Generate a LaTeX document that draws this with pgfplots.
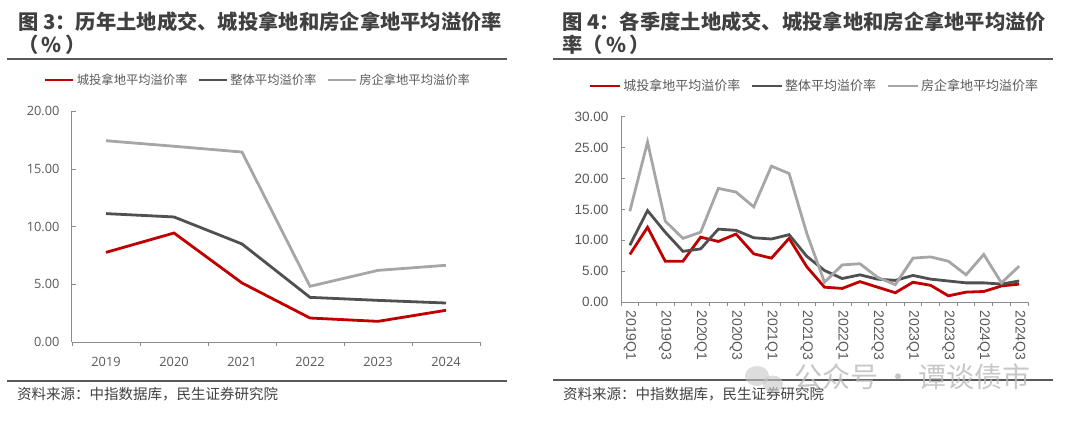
\documentclass[border=0pt]{standalone}
\usepackage{fontspec}
\usepackage{pgfplots}
\pgfplotsset{compat=1.18}
\setmainfont{Noto Sans CJK SC}
\newfontfamily\cjk{Noto Sans CJK SC}
\newfontfamily\osans{Open Sans}
\newfontfamily\lsans{Liberation Sans}
\definecolor{cred}{HTML}{C00000}
\definecolor{cdark}{HTML}{505050}
\definecolor{clight}{HTML}{A6A6A6}
\definecolor{ctitle}{HTML}{404040}
\definecolor{ctick}{HTML}{595959}
\definecolor{caxis}{HTML}{8C8C8C}

\pgfplotstableread{
x red dark grey
0 7.77 11.13 17.45
1 9.45 10.84 16.97
2 5.12 8.50 16.47
3 2.08 3.87 4.83
4 1.79 3.61 6.21
5 2.75 3.38 6.65
}\annual

\pgfplotstableread{
x red dark grey
0 7.7 9.2 14.7
1 12.1 14.8 25.9
2 6.6 11.3 13.1
3 6.6 8.2 10.3
4 10.5 8.6 11.3
5 9.8 11.8 18.4
6 11.0 11.6 17.8
7 7.8 10.4 15.4
8 7.1 10.2 22.0
9 10.3 10.9 20.8
10 5.7 7.4 11.1
11 2.4 5.1 3.2
12 2.2 3.8 6.0
13 3.3 4.4 6.2
14 2.4 3.7 4.0
15 1.5 3.5 2.8
16 3.2 4.3 7.1
17 2.7 3.7 7.3
18 1.0 3.4 6.6
19 1.6 3.1 4.4
20 1.7 3.1 7.7
21 2.6 2.9 3.1
22 2.9 3.4 5.8
}\quarterly

\pgfplotsset{
  mystyle/.style={
    scale only axis,
    axis x line*=bottom, axis y line*=left,
    axis line style={caxis, line width=1pt},
    tick style={caxis, line width=0.9pt},
    tick align=inside, major tick length=4pt,
    xtick style={yshift=-4pt},
    /pgf/number format/assume math mode=true,
    y tick label style={/pgf/number format/.cd, fixed, fixed zerofill, precision=2},
    ticklabel style={text=ctick},
    legend style={draw=none, fill=none, inner sep=0pt, text=ctick,
      /tikz/every even column/.append style={column sep=8pt}},
    legend cell align=left,
  },
  redline/.style={cred, line width=2.8pt},
  darkline/.style={cdark, line width=2.8pt},
  greyline/.style={clight, line width=2.8pt},
}

\begin{document}
\begin{tikzpicture}
\path[use as bounding box] (0pt,0pt) rectangle (1080pt,-421pt);

% ---------- Left panel ----------
\node[anchor=west, inner sep=0pt, text=ctitle, font=\cjk\bfseries\fontsize{20.3}{24}\selectfont] at (18pt,-22pt) {图 3：历年土地成交、城投拿地和房企拿地平均溢价率};
\node[anchor=west, inner sep=0pt, text=ctitle, font=\cjk\bfseries\fontsize{20.3}{24}\selectfont] at (18pt,-45pt) {（\,\%\,）};
\draw[ctick, line width=1.6pt] (7pt,-59pt) -- (507pt,-59pt);
\draw[ctick, line width=1.6pt] (7pt,-381pt) -- (507pt,-381pt);
\node[anchor=west, inner sep=0pt, text=ctitle, font=\cjk\fontsize{14.5}{17}\selectfont] at (17pt,-394pt) {资料来源：中指数据库，民生证券研究院};

\begin{axis}[mystyle,
  at={(72pt,-342pt)}, anchor=south west,
  width=408pt, height=230.7pt,
  xmin=-0.5, xmax=5.5, ymin=0, ymax=20,
  ytick={0,5,10,15,20},
  xtick={-0.5,0.5,...,5.5}, xticklabels={},
  extra x ticks={0,1,2,3,4,5},
  extra x tick labels={2019,2020,2021,2022,2023,2024},
  extra x tick style={major tick length=0pt},
  ticklabel style={font=\osans\fontsize{12.8}{14}\selectfont},
  xticklabel shift=12pt, yticklabel shift=9pt,
  legend columns=3,
  legend style={at={(0.456,1.136)}, anchor=center, font=\cjk\fontsize{12.3}{14}\selectfont},
  legend image code/.code={\draw[#1] (0pt,0pt) -- (28pt,0pt);},
]
\addplot[redline] table[x=x, y=red] {\annual};
\addlegendentry{城投拿地平均溢价率}
\addplot[darkline] table[x=x, y=dark] {\annual};
\addlegendentry{整体平均溢价率}
\addplot[greyline] table[x=x, y=grey] {\annual};
\addlegendentry{房企拿地平均溢价率}
\end{axis}

% ---------- Right panel ----------
\node[anchor=west, inner sep=0pt, text=ctitle, font=\cjk\bfseries\fontsize{20.3}{24}\selectfont] at (562pt,-22pt) {图 4：各季度土地成交、城投拿地和房企拿地平均溢价};
\node[anchor=west, inner sep=0pt, text=ctitle, font=\cjk\bfseries\fontsize{20.3}{24}\selectfont] at (562pt,-45pt) {率（\,\%\,）};
\draw[ctick, line width=1.6pt] (553pt,-59pt) -- (1053pt,-59pt);
\draw[ctick, line width=1.6pt] (553pt,-380pt) -- (1053pt,-380pt);
\node[anchor=west, inner sep=0pt, text=ctitle, font=\cjk\fontsize{14.5}{17}\selectfont] at (563pt,-394pt) {资料来源：中指数据库，民生证券研究院};

\begin{axis}[mystyle,
  at={(621pt,-302pt)}, anchor=south west,
  width=407pt, height=185.3pt,
  xmin=-0.5, xmax=22.5, ymin=0, ymax=30,
  ytick={0,5,10,15,20,25,30},
  xtick={-0.5,0.5,...,22.5}, xticklabels={},
  extra x ticks={0,2,4,6,8,10,12,14,16,18,20,22},
  extra x tick labels={2019Q1,2019Q3,2020Q1,2020Q3,2021Q1,2021Q3,2022Q1,2022Q3,2023Q1,2023Q3,2024Q1,2024Q3},
  extra x tick style={major tick length=0pt, xticklabel style={rotate=-90, anchor=west, font=\lsans\fontsize{14}{15}\selectfont}},
  ticklabel style={font=\lsans\fontsize{13.5}{15}\selectfont},
  xticklabel shift=5pt, yticklabel shift=9pt,
  legend columns=3,
  legend style={at={(0.475,1.166)}, anchor=center, font=\cjk\fontsize{13}{15}\selectfont},
  legend image code/.code={\draw[#1] (0pt,0pt) -- (30pt,0pt);},
]
\addplot[redline] table[x=x, y=red] {\quarterly};
\addlegendentry{城投拿地平均溢价率}
\addplot[darkline] table[x=x, y=dark] {\quarterly};
\addlegendentry{整体平均溢价率}
\addplot[greyline] table[x=x, y=grey] {\quarterly};
\addlegendentry{房企拿地平均溢价率}
\end{axis}

% watermark
\fill[gray!45, opacity=0.6] (757pt,-376pt) ellipse [x radius=12pt, y radius=10pt];
\fill[gray!45, opacity=0.6] (773pt,-384pt) ellipse [x radius=10pt, y radius=8.5pt];
\node[anchor=west, inner sep=0pt, text=gray!55, opacity=0.8, font=\cjk\fontsize{28}{30}\selectfont] at (794pt,-377pt) {公众号 · 谭谈债市};
\end{tikzpicture}
\end{document}
